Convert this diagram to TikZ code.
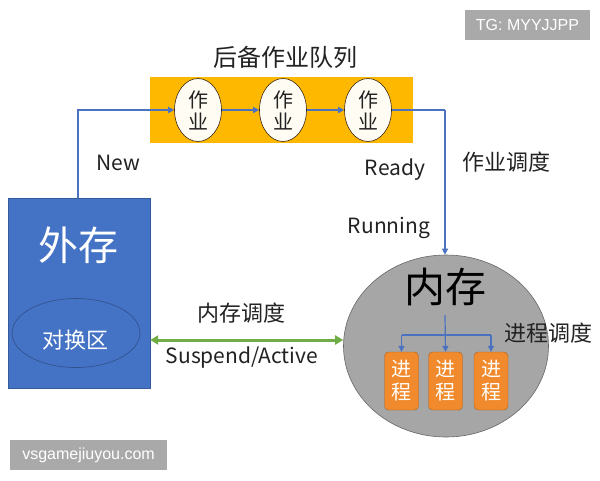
\documentclass[tikz,border=0pt]{standalone}
\usepackage{fontspec}
\setmainfont{Noto Sans CJK SC}
\newfontfamily\wmfont{Liberation Sans}
\usetikzlibrary{arrows.meta,shapes.geometric}
\definecolor{qorange}{HTML}{FFB800}
\definecolor{jobfill}{HTML}{FFFDF3}
\definecolor{linkblue}{HTML}{4A72C0}
\definecolor{outblue}{HTML}{4472C4}
\definecolor{memgray}{HTML}{A6A6A6}
\definecolor{procorange}{HTML}{F08A2C}
\definecolor{swapgreen}{HTML}{70AD47}
\definecolor{wmgray}{HTML}{A9A9A9}
\definecolor{txt}{HTML}{222222}
\tikzset{
  jobnode/.style={ellipse,draw=black!70!brown,fill=jobfill,line width=0.6pt,minimum width=47pt,minimum height=63pt,inner sep=0pt,text=txt,font=\fontsize{20}{22}\selectfont,align=center},
  procnode/.style={rectangle,rounded corners=4pt,draw=procorange!70!black,fill=procorange,minimum width=34pt,minimum height=58pt,inner sep=0pt,text=white,font=\fontsize{20}{23}\selectfont,align=center},
  linkarrow/.style={draw=linkblue,line width=1.2pt,-{Triangle[length=6pt,width=6pt]}},
  lbl/.style={font=\fontsize{21}{24}\selectfont,inner sep=0pt,text=txt},
  wm/.style={fill=wmgray,text=white,font=\wmfont\fontsize{16}{18}\selectfont,inner sep=0pt}
}
\begin{document}
\begin{tikzpicture}[x=1pt,y=-1pt]
\useasboundingbox (0,0) rectangle (600,480);
\fill[white] (0,0) rectangle (600,480);
% queue
\node[lbl,font=\fontsize{24}{26}\selectfont] (qtitle) at (285,57) {后备作业队列};
\node[rectangle,fill=qorange,minimum width=263pt,minimum height=66pt,inner sep=0pt] (queue) at (281.5,110) {};
\node[jobnode] (j1) at (198,110) {作\\业};
\node[jobnode] (j2) at (283,110) {作\\业};
\node[jobnode] (j3) at (368,110) {作\\业};
\draw[linkarrow] (j1) -- (j2);
\draw[linkarrow] (j2) -- (j3);
% external storage
\node[rectangle,fill=outblue,draw=outblue!80!black,minimum width=142pt,minimum height=190pt,inner sep=0pt] (ext) at (79,293) {};
\node[text=white,font=\fontsize{40}{44}\selectfont,inner sep=0pt] (extlbl) at (78,245) {外存};
\node[ellipse,draw=outblue!70!black,line width=0.6pt,minimum width=128pt,minimum height=69pt,inner sep=0pt] (swap) at (76,333) {};
\node[text=white,font=\fontsize{22}{24}\selectfont,inner sep=0pt] (swaplbl) at (75,340) {对换区};
% memory
\node[ellipse,fill=memgray,draw=gray!80!black,line width=0.6pt,minimum width=205pt,minimum height=182pt,inner sep=0pt] (mem) at (446,346) {};
\node[font=\fontsize{41}{44}\selectfont,inner sep=0pt,text=black] (memlbl) at (445,287) {内存};
\node[procnode] (p1) at (401.5,381) {进\\程};
\node[procnode] (p2) at (445.5,381) {进\\程};
\node[procnode] (p3) at (491,381) {进\\程};
\coordinate (ts) at (445,315);
\coordinate (tj) at (445,335);
\draw[linkarrow] (ts) -- (p2.north);
\draw[draw=linkblue,line width=1.2pt] (p1.north |- tj) -- (p3.north |- tj);
\draw[linkarrow] (p1.north |- tj) -- (p1.north);
\draw[linkarrow] (p3.north |- tj) -- (p3.north);
\node[lbl,font=\fontsize{22}{24}\selectfont,anchor=west] (pslbl) at (504,333) {进程调度};
% connectors
\draw[linkarrow] (ext.north -| 78,0) |- (j1.west);
\coordinate (rc) at (445,110);
\draw[draw=linkblue,line width=1.2pt] (j3.east) -- (rc);
\draw[linkarrow] (rc) -- (mem.north -| rc);
\draw[draw=swapgreen,line width=3pt,{Triangle[length=8pt,width=9pt]}-{Triangle[length=8pt,width=9pt]}] (ext.east |- 0,340) -- (mem.west |- 0,340);
\node[lbl] (newlbl) at (118,163) {New};
\node[lbl] (readylbl) at (395,170) {Ready};
\node[lbl,font=\fontsize{22}{24}\selectfont] (jslbl) at (506,162) {作业调度};
\node[lbl] (runlbl) at (389,228) {Running};
\node[lbl,font=\fontsize{22}{24}\selectfont] (mslbl) at (241,313) {内存调度};
\node[lbl] (salbl) at (242,358) {Suspend/Active};
% watermarks
\node[wm,minimum width=125pt,minimum height=30pt] (wm1) at (527.5,25) {TG: MYYJJPP};
\node[wm,minimum width=157pt,minimum height=30pt] (wm2) at (88.5,455) {vsgamejiuyou.com};
\end{tikzpicture}
\end{document}
